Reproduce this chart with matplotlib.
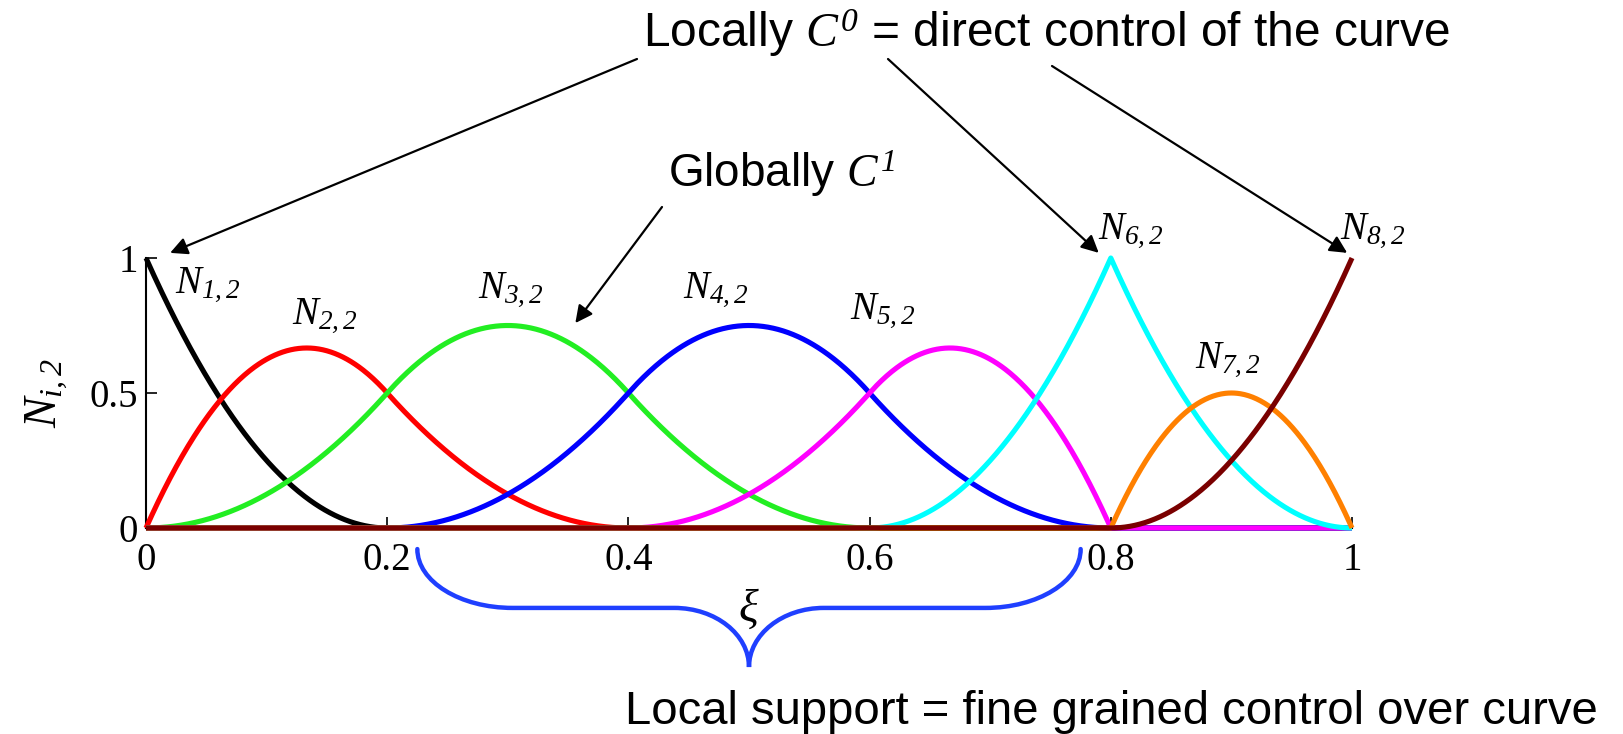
import numpy as np
import matplotlib
matplotlib.use("Agg")
import matplotlib.pyplot as plt
from matplotlib.path import Path
from matplotlib.patches import PathPatch

# ── DATA ───────────────────────────────────────────────────────────────────────
DEGREE = 2
KNOTS  = [0, 0, 0, 0.2, 0.4, 0.6, 0.8, 0.8, 1, 1, 1]   # open knot vector
COLORS = ['#000000', '#ff0000', '#22ee22', '#0000ff',
          '#ff00ff', '#00ffff', '#ff8000', '#7a0000']
LABELS = [r'$N_{%d,2}$' % (i + 1) for i in range(len(COLORS))]
LABEL_POS = [(0.024, 0.874), (0.121, 0.759), (0.275, 0.856), (0.445, 0.856),
             (0.584, 0.778), (0.789, 1.074), (0.870, 0.596), (0.990, 1.074)]
XTICKS = [0, 0.2, 0.4, 0.6, 0.8, 1]
YTICKS = [0, 0.5, 1]

W, H = 1623, 734
BLUE = '#1f3fff'

# Times-like italic maths, digits included
plt.rcParams['mathtext.fontset'] = 'custom'
plt.rcParams['mathtext.rm'] = 'Liberation Serif:italic'
plt.rcParams['mathtext.it'] = 'Liberation Serif:italic'
plt.rcParams['mathtext.bf'] = 'Liberation Serif:bold'
SERIF = ['Liberation Serif', 'DejaVu Serif']
SANS  = ['Liberation Sans', 'DejaVu Sans']


def basis(i, p, t, U):
    """Cox-de Boor recursion for N_{i,p}(t)."""
    if p == 0:
        out = ((t >= U[i]) & (t < U[i + 1])).astype(float)
        if U[i + 1] == U[-1] and U[i] < U[i + 1]:
            out[t == U[-1]] = 1.0
        return out
    a = np.zeros_like(t)
    b = np.zeros_like(t)
    if U[i + p] > U[i]:
        a = (t - U[i]) / (U[i + p] - U[i]) * basis(i, p - 1, t, U)
    if U[i + p + 1] > U[i + 1]:
        b = (U[i + p + 1] - t) / (U[i + p + 1] - U[i + 1]) * basis(i + 1, p - 1, t, U)
    return a + b


xi = np.unique(np.concatenate([np.linspace(0, 1, 1201), KNOTS]))
n_funcs = len(KNOTS) - DEGREE - 1

# ── PLOT ───────────────────────────────────────────────────────────────────────
fig = plt.figure(figsize=(W / 100, H / 100), dpi=100, facecolor='white')
ax = fig.add_axes([146 / W, 1 - 528 / H, 1206 / W, 270 / H])

for i in range(n_funcs):
    ax.plot(xi, basis(i, DEGREE, xi, KNOTS), color=COLORS[i], lw=3.7,
            clip_on=False, solid_capstyle='butt', zorder=3)
    ax.text(*LABEL_POS[i], LABELS[i], fontsize=28, ha='left', va='baseline')

ax.set_xlim(0, 1)
ax.set_ylim(0, 1)
ax.set_xticks(XTICKS, ['0', '0.2', '0.4', '0.6', '0.8', '1'])
ax.set_yticks(YTICKS, ['0', '0.5', '1'])
for lab in ax.get_xticklabels() + ax.get_yticklabels():
    lab.set_family(SERIF)
    lab.set_fontsize(28)
ax.tick_params(direction='in', length=8, width=1.2, colors='black')
ax.tick_params(axis='x', pad=10)
ax.tick_params(axis='y', pad=6)
for s in ['top', 'right']:
    ax.spines[s].set_visible(False)
ax.spines['left'].set_linewidth(1.5)
ax.spines['bottom'].set_linewidth(1.5)

ax.set_ylabel(r'$N_{i,2}$', fontsize=33, labelpad=14)
# xi label sits inside the brace notch
ax.text(0.5, -0.30, r'$\xi$', fontsize=33, ha='center', va='center')


def fpx(x, y):
    # top-left pixel coords -> figure pixels
    return (x, H - y)


# annotations text
fig.text(643 / W, 1 - 47 / H, r'Locally $C^0$ = direct control of the curve',
         family=SANS, fontsize=34.5, ha='left', va='baseline')
fig.text(668 / W, 1 - 187 / H, r'Globally $C^1$',
         family=SANS, fontsize=33, ha='left', va='baseline')
fig.text(625 / W, 1 - 724 / H, 'Local support = fine grained control over curve',
         family=SANS, fontsize=34, ha='left', va='baseline')

arrow = dict(arrowstyle='-|>', color='black', lw=1.6, mutation_scale=26,
             shrinkA=0, shrinkB=0)
for start, tip in [((637, 59), (0.020, 1.019)),
                   ((888, 59), (0.790, 1.019)),
                   ((1052, 66), (0.996, 1.019)),
                   ((662, 207), (0.356, 0.759))]:
    ax.annotate('', xy=tip, xycoords='data', xytext=fpx(*start),
                textcoords='figure pixels', arrowprops=arrow,
                annotation_clip=False)

# curly brace under the axis (data x, data y below zero)
x0, x1, xm = 0.225, 0.775, 0.5
yt, ym, yb = -0.078, -0.296, -0.515
r1, r2, k = 0.079, 0.062, 0.5523
verts = [(x0, yt),
         (x0, yt + k * (ym - yt)), (x0 + r1 - k * r1, ym), (x0 + r1, ym),
         (xm - r2, ym),
         (xm - r2 + k * r2, ym), (xm, yb + k * (ym - yb)), (xm, yb),
         (xm, yb + k * (ym - yb)), (xm + r2 - k * r2, ym), (xm + r2, ym),
         (x1 - r1, ym),
         (x1 - r1 + k * r1, ym), (x1, yt + k * (ym - yt)), (x1, yt)]
codes = ([Path.MOVETO] + [Path.CURVE4] * 3 + [Path.LINETO] + [Path.CURVE4] * 6
         + [Path.LINETO] + [Path.CURVE4] * 3)
ax.add_patch(PathPatch(Path(verts, codes), facecolor='none', edgecolor=BLUE,
                       lw=3.2, clip_on=False, transform=ax.transData,
                       capstyle='round'))

fig.savefig('out.png', dpi=100, facecolor='white')
